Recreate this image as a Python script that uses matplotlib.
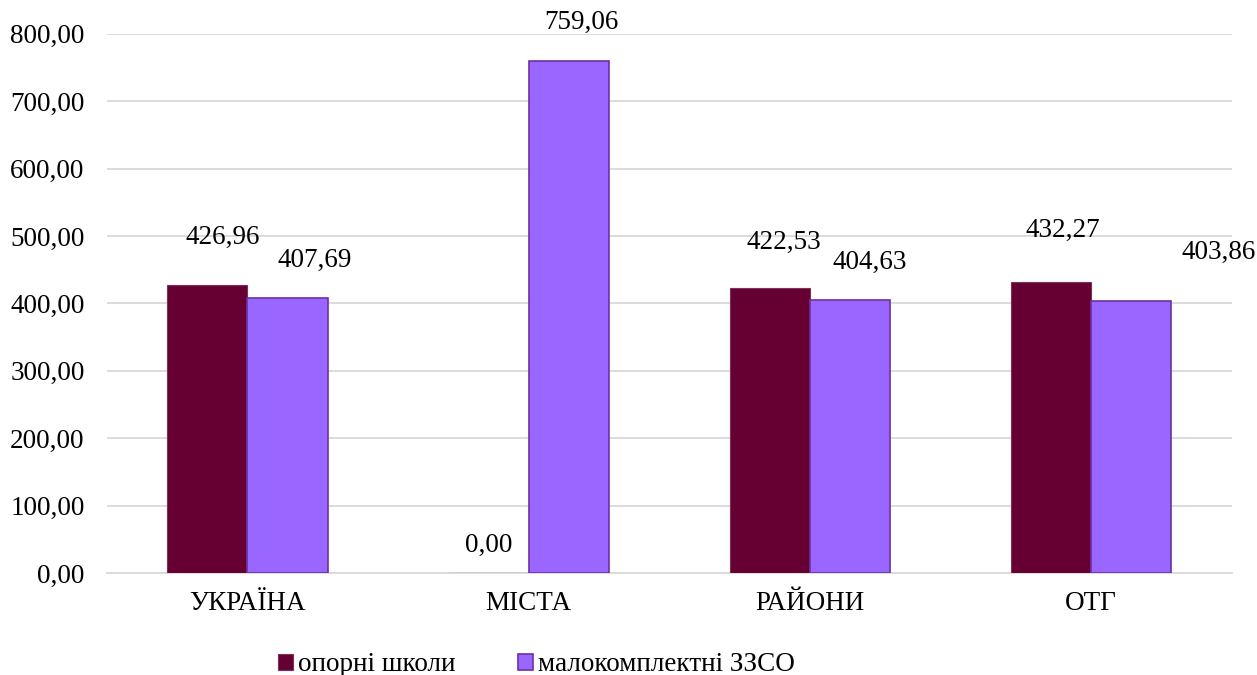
import matplotlib.pyplot as plt
import numpy as np

plt.rcParams['font.family'] = ['Liberation Serif', 'DejaVu Serif']

categories = ['УКРАЇНА', 'МІСТА', 'РАЙОНИ', 'ОТГ']
oporni = [426.96, 0.00, 422.53, 432.27]
malokompl = [407.69, 759.06, 404.63, 403.86]

# зсуви підписів (пікселі) відносно верху стовпця
off_oporni = [(15, 48), (0, 28), (14, 46), (12, 51)]
off_malo = [(27, 38), (13, 39), (20, 38), (87, 48)]

fig = plt.figure(figsize=(12.57, 6.75), dpi=100)
ax = fig.add_axes([0.085, 0.151, 0.895, 0.799])

x = np.arange(len(categories))
w = 0.285
b1 = ax.bar(x - w / 2, oporni, w, color='#660033', edgecolor='#7a3358', linewidth=0.8,
            label='опорні школи', zorder=3)
b2 = ax.bar(x + w / 2, malokompl, w, color='#9966FF', edgecolor='#7030A0', linewidth=1.2,
            label='малокомплектні ЗЗСО', zorder=3)

def fmt(v):
    return f'{v:.2f}'.replace('.', ',')

fs = 19.5
for bars, vals, offs in ((b1, oporni, off_oporni), (b2, malokompl, off_malo)):
    for r, v, (dx, dy) in zip(bars, vals, offs):
        ax.annotate(fmt(v), (r.get_x() + r.get_width() / 2, v),
                    xytext=(dx * 0.72, dy * 0.72), textcoords='offset points',
                    ha='center', va='center', fontsize=fs)

ax.set_xlim(-0.5, 3.5)
ax.set_ylim(0, 800)
ax.set_yticks(np.arange(0, 801, 100))
ax.set_yticklabels([fmt(t) for t in np.arange(0, 801, 100)])
ax.set_xticks(x)
ax.set_xticklabels(categories)
ax.tick_params(axis='both', length=0, labelsize=fs)
ax.tick_params(axis='y', pad=16)
ax.tick_params(axis='x', pad=13)
ax.grid(axis='y', color='#D9D9D9', linewidth=1.3, zorder=0)
for s in ['top', 'right', 'left']:
    ax.spines[s].set_visible(False)
ax.spines['bottom'].set_color('#D9D9D9')
ax.spines['bottom'].set_linewidth(1.3)

ax.legend(loc='center', bbox_to_anchor=(0.382, -0.17), ncol=2, frameon=False,
          fontsize=fs, handlelength=0.55, handleheight=0.55, handletextpad=0.2,
          columnspacing=2.3)

fig.savefig('out.png', dpi=100)
